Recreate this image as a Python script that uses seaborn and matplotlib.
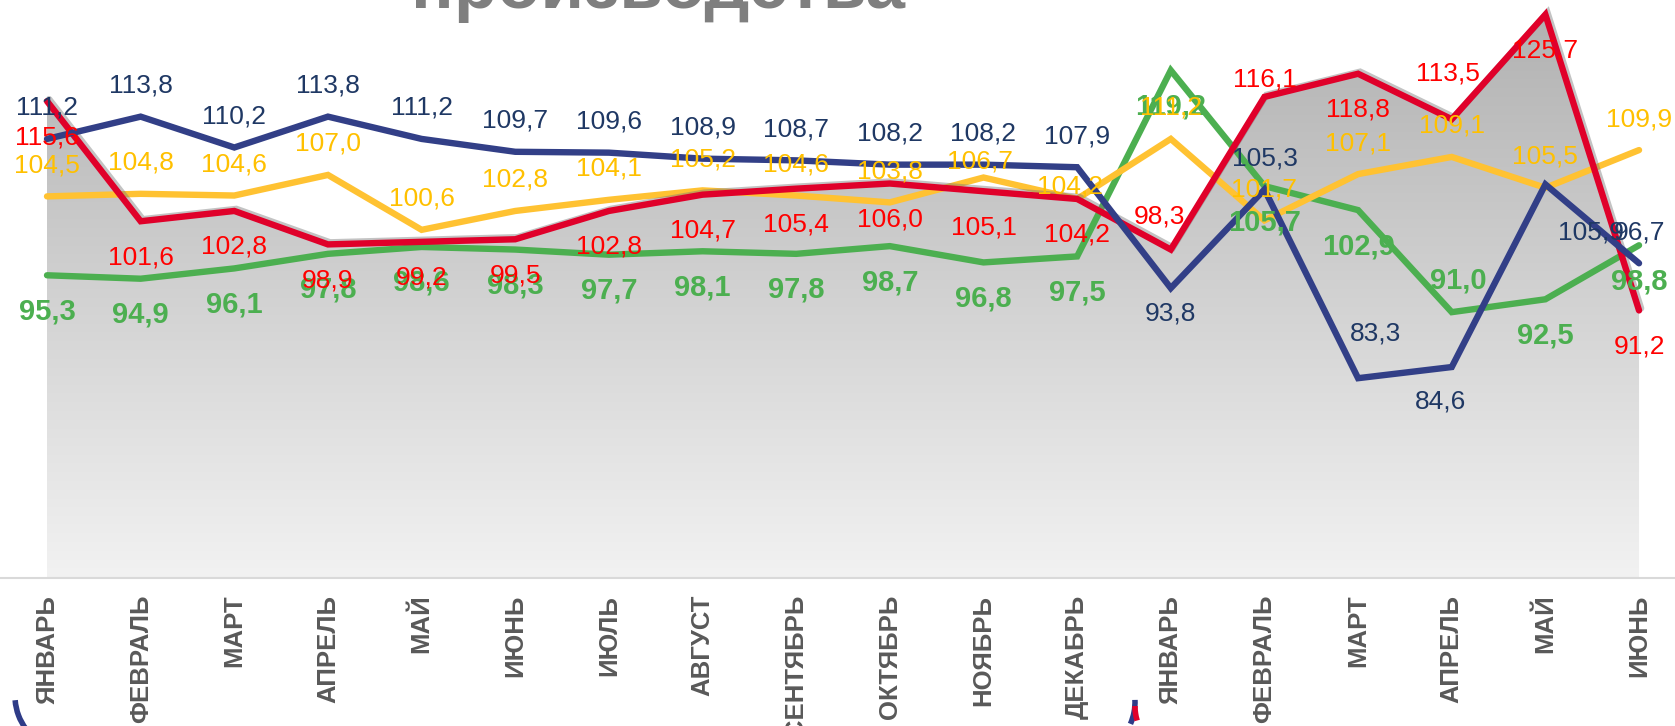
import numpy as np
import pandas as pd
import matplotlib
matplotlib.use("Agg")
import matplotlib.pyplot as plt
import matplotlib.patheffects as pe
from matplotlib.colors import LinearSegmentedColormap
from matplotlib.patches import Arc
import seaborn as sns

# === Data ===
months = ["ЯНВАРЬ", "ФЕВРАЛЬ", "МАРТ", "АПРЕЛЬ", "МАЙ", "ИЮНЬ", "ИЮЛЬ", "АВГУСТ",
          "СЕНТЯБРЬ", "ОКТЯБРЬ", "НОЯБРЬ", "ДЕКАБРЬ",
          "ЯНВАРЬ", "ФЕВРАЛЬ", "МАРТ", "АПРЕЛЬ", "МАЙ", "ИЮНЬ"]

navy_vals = [111.2, 113.8, 110.2, 113.8, 111.2, 109.7, 109.6, 108.9, 108.7, 108.2, 108.2, 107.9,
             93.8, 105.3, 83.3, 84.6, 105.9, 96.7]
red_vals = [115.6, 101.6, 102.8, 98.9, 99.2, 99.5, 102.8, 104.7, 105.4, 106.0, 105.1, 104.2,
            98.3, 116.1, 118.8, 113.5, 125.7, 91.2]
yellow_vals = [104.5, 104.8, 104.6, 107.0, 100.6, 102.8, 104.1, 105.2, 104.6, 103.8, 106.7, 104.2,
               111.2, 101.7, 107.1, 109.1, 105.5, 109.9]
green_vals = [95.3, 94.9, 96.1, 97.8, 98.6, 98.3, 97.7, 98.1, 97.8, 98.7, 96.8, 97.5,
              119.2, 105.7, 102.9, 91.0, 92.5, 98.8]

title = "производства"

# === Styles ===
sns.set_style("white")
plt.rcParams["font.family"] = ["Liberation Sans", "DejaVu Sans"]

# series: values, line colour, label colour, label weight, label size, default label shift (px, down +)
series = {
    "green": (green_vals, "#4caf50", "#4caf50", "bold", 21, 36),
    "yellow": (yellow_vals, "#ffc232", "#ffc000", "normal", 19, -31),
    "red": (red_vals, "#e0002a", "#ff0000", "normal", 19, 36),
    "navy": (navy_vals, "#323f87", "#1f3864", "normal", 19, -31),
}
# labels that sit elsewhere (dx, dy in px)
label_moves = {
    "navy": {12: (0, 25), 14: (17, -45), 15: (-11, 34), 16: (46, 48)},
    "red": {12: (-11, -33), 13: (0, -17), 15: (-4, -46)},
    "green": {15: (7, -32)},
    "yellow": {10: (-3, -16), 11: (-7, -12)},
}

x = np.arange(len(months))
ymin, ymax = 60, 127.4

fig = plt.figure(figsize=(16.75, 7.26), dpi=100)
ax = fig.add_axes([0, 148 / 726, 1, 578 / 726])

# === Gray gradient area under the red series ===
poly = ax.fill_between(x, red_vals, ymin, color="none", lw=0, zorder=1)
grad_cmap = LinearSegmentedColormap.from_list("g", ["#f2f2f2", "#b0b0b0"])
grad = np.linspace(0, 1, 256).reshape(-1, 1)
im = ax.imshow(grad, extent=[0, len(months) - 1, ymin, ymax], origin="lower",
               aspect="auto", cmap=grad_cmap, zorder=1)
im.set_clip_path(poly.get_paths()[0], transform=ax.transData)

# === Lines ===
z = 3
for name, (vals, lcolor, tcolor, weight, size, shift) in series.items():
    df = pd.DataFrame({"x": x, "value": vals})
    sns.lineplot(data=df, x="x", y="value", color=lcolor, linewidth=4.6, ax=ax,
                 legend=False, zorder=z)
    line = ax.lines[-1]
    line.set_solid_joinstyle("miter")
    if name == "red":
        line.set_path_effects([pe.SimpleLineShadow(offset=(1.5, 1.5), shadow_color="#7a7a7a", alpha=0.45),
                               pe.Normal()])
    z += 1

# === Data labels ===
for name, (vals, lcolor, tcolor, weight, size, shift) in series.items():
    for i, v in enumerate(vals):
        dx, dy = label_moves[name].get(i, (0, shift))
        ax.annotate(f"{v:.1f}".replace(".", ","), (i, v), xytext=(dx, -dy),
                    textcoords="offset pixels", ha="center", va="center",
                    color=tcolor, fontsize=size, fontweight=weight, zorder=10)

# === Axes ===
ax.set_xlim(-0.502, 17.384)
ax.set_ylim(ymin, ymax)
ax.set_xticks(x)
ax.set_xticklabels(months, rotation=90, fontsize=18.5, fontweight="bold", color="#595959")
ax.tick_params(axis="x", length=0, pad=12)
ax.set_yticks([])
ax.set_xlabel("")
ax.set_ylabel("")
for s in ["top", "left", "right"]:
    ax.spines[s].set_visible(False)
ax.spines["bottom"].set_color("#d9d9d9")
ax.spines["bottom"].set_linewidth(1.5)
ax.set_facecolor("none")

# === Title (cut by the top edge) ===
fig.text(658 / 1675, 1 - 8 / 726, title, ha="center", va="baseline",
         fontsize=51, fontweight="bold", color="#7f7f7f")

# === Year brackets at the bottom ===
W, H = 1675, 726
fig.add_artist(Arc((70 / W, 30 / H), 110 / W, 110 / H, theta1=190, theta2=240,
                   transform=fig.transFigure, color="#2e3b87", lw=4))
fig.add_artist(Arc((1080 / W, 24 / H), 110 / W, 110 / H, theta1=-45, theta2=5,
                   transform=fig.transFigure, color="#2e3b87", lw=4))
fig.add_artist(Arc((1185 / W, 20 / H), 100 / W, 100 / H, theta1=180, theta2=215,
                   transform=fig.transFigure, color="#e0002a", lw=4))

fig.savefig("out.png", dpi=100)
